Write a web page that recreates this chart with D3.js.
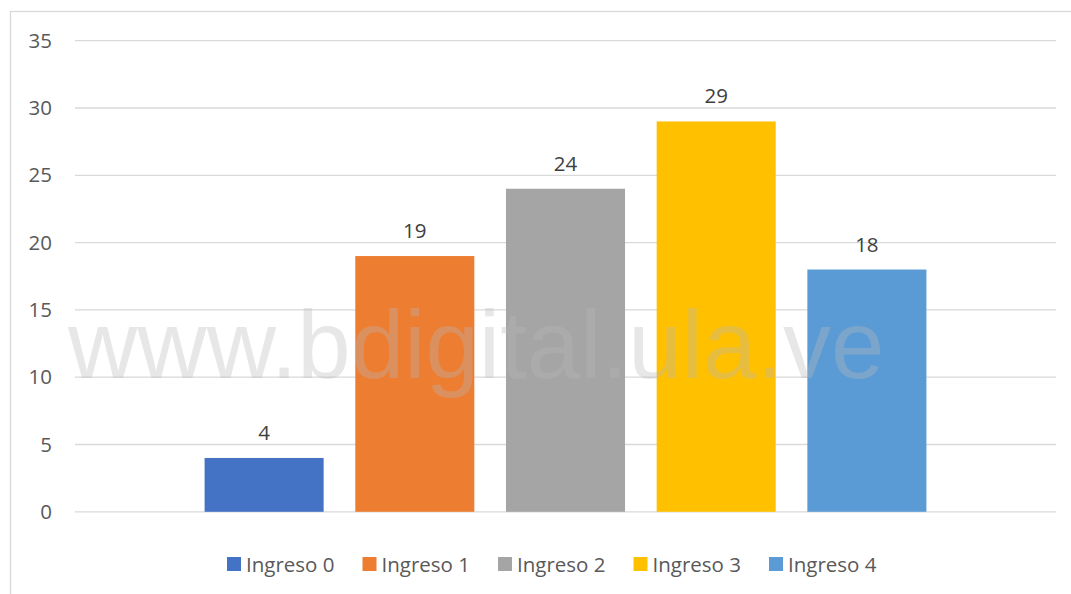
<!DOCTYPE html>
<html>
<head>
<meta charset="utf-8">
<script src="https://cdn.jsdelivr.net/npm/d3@7"></script>
<style>
  body { margin: 0; background: #fff; }
  text { font-family: "Open Sans", sans-serif; }
</style>
</head>
<body>
<div id="chart"></div>
<script>
var w = 1071;
var h = 594;

// data
var series = ["Ingreso 0", "Ingreso 1", "Ingreso 2", "Ingreso 3", "Ingreso 4"];
var values = [4, 19, 24, 29, 18];
var colors = ["#4472C4", "#ED7D31", "#A5A5A5", "#FFC000", "#5B9BD5"];
var yTicks = [0, 5, 10, 15, 20, 25, 30, 35];
var watermark = "www.bdigital.ula.ve";

var plotLeft = 75, plotRight = 1056, plotTop = 40.7, plotBottom = 511.8;

var svg = d3.select("#chart").append("svg")
  .attr("width", w)
  .attr("height", h);

// chart area border
svg.append("rect")
  .attr("x", 10.5).attr("y", 11.5)
  .attr("width", 1100).attr("height", 700)
  .attr("fill", "none")
  .attr("stroke", "#d9d9d9")
  .attr("stroke-width", 1.3);

var y = d3.scaleLinear().domain([0, 35]).range([plotBottom, plotTop]);
var x = d3.scaleBand().domain(series).range([plotLeft, plotRight])
  .paddingInner(0.21).paddingOuter(0.86);

// gridlines
svg.append("g")
  .attr("class", "grid")
  .selectAll("line")
  .data(yTicks)
  .join("line")
  .attr("x1", plotLeft).attr("x2", plotRight)
  .attr("y1", d => y(d)).attr("y2", d => y(d))
  .attr("stroke", "#d9d9d9")
  .attr("stroke-width", 1.3);

// y axis labels
var yAxis = d3.axisLeft(y).tickValues(yTicks).tickSize(0).tickPadding(0);
svg.append("g")
  .attr("transform", "translate(52,0)")
  .call(yAxis)
  .call(g => g.select(".domain").remove())
  .selectAll("text")
  .attr("fill", "#595959")
  .style("font-size", "20.5px")
  .style("font-family", "'Open Sans', sans-serif");

// bars
svg.append("g")
  .selectAll("rect")
  .data(values)
  .join("rect")
  .attr("x", (d, i) => x(series[i]))
  .attr("y", d => y(d))
  .attr("width", x.bandwidth())
  .attr("height", d => y(0) - y(d))
  .attr("fill", (d, i) => colors[i]);

// value labels
svg.append("g")
  .selectAll("text")
  .data(values)
  .join("text")
  .attr("x", (d, i) => x(series[i]) + x.bandwidth() / 2)
  .attr("y", d => y(d) - 18)
  .attr("text-anchor", "middle")
  .attr("fill", "#404040")
  .style("font-size", "20.5px")
  .text(d => d);

// watermark
svg.append("text")
  .attr("x", 68)
  .attr("y", 378)
  .attr("fill", "#bababa")
  .attr("fill-opacity", 0.34)
  .style("font-family", "'Liberation Sans', Arial, sans-serif")
  .style("font-size", "96px")
  .text(watermark);

// legend
var lgX = d3.scaleBand().domain(series).range([227, 227 + 5 * 135.5]);
var items = svg.append("g")
  .attr("class", "legend")
  .selectAll("g")
  .data(series)
  .join("g")
  .attr("transform", d => "translate(" + lgX(d) + ",557)");

items.append("rect")
  .attr("width", 14).attr("height", 14)
  .attr("fill", (d, i) => colors[i]);

items.append("text")
  .attr("x", 19)
  .attr("y", 14.5)
  .attr("fill", "#595959")
  .style("font-size", "20.5px")
  .text(d => d);
</script>
</body>
</html>
